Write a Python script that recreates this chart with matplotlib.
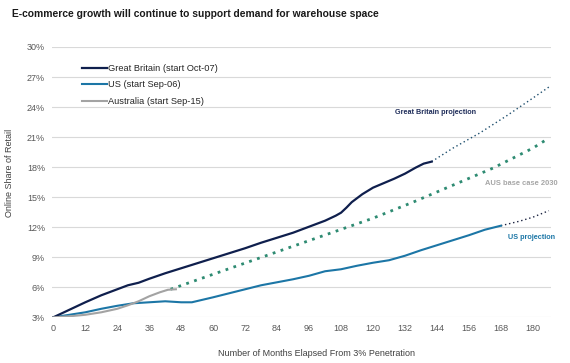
import matplotlib.pyplot as plt
from matplotlib.ticker import FuncFormatter

# data (months since 3% share, online share %)
gb_months = [0, 6, 12, 18, 24, 28, 32, 36, 42, 48, 54, 60, 66, 72, 78, 84, 90, 96,
             102, 106, 108, 110, 112, 114, 116, 120, 124, 128, 132, 136, 139, 142]
gb_share = [3.0, 3.75, 4.5, 5.2, 5.8, 6.2, 6.45, 6.85, 7.4, 7.9, 8.4, 8.9, 9.4, 9.9,
            10.45, 10.95, 11.45, 12.05, 12.65, 13.15, 13.45, 13.95, 14.5, 14.9, 15.3,
            15.95, 16.4, 16.85, 17.35, 17.95, 18.35, 18.55]

us_months = [0, 6, 12, 18, 24, 30, 36, 42, 48, 52, 56, 60, 66, 72, 78, 84, 90, 96,
             102, 108, 114, 120, 126, 132, 138, 144, 150, 156, 162, 168]
us_share = [3.0, 3.25, 3.5, 3.85, 4.15, 4.4, 4.5, 4.6, 4.5, 4.5, 4.75, 5.0, 5.4, 5.8,
            6.2, 6.5, 6.8, 7.15, 7.6, 7.8, 8.15, 8.45, 8.7, 9.15, 9.7, 10.2, 10.7,
            11.2, 11.75, 12.15]

au_months = [0, 6, 12, 18, 24, 28, 32, 36, 40, 43, 46]
au_share = [3.0, 3.1, 3.25, 3.5, 3.85, 4.2, 4.6, 5.1, 5.5, 5.75, 5.8]

gb_proj_months = [142, 150, 160, 170, 180, 186]
gb_proj_share = [18.55, 19.9, 21.4, 23.1, 24.9, 26.0]

us_proj_months = [168, 175, 180, 186]
us_proj_share = [12.15, 12.6, 13.0, 13.65]

au_base_months = [44, 60, 75, 90, 105, 120, 135, 150, 165, 180, 186]
au_base_share = [5.8, 7.3, 8.7, 10.1, 11.5, 12.9, 14.5, 16.2, 17.9, 19.9, 20.9]

x_ticks = list(range(0, 181, 12))
y_ticks = list(range(3, 31, 3))

navy = '#0f1f4d'
blue = '#1c76a6'
grey = '#a3a3a3'
green = '#2e8b72'

plt.rcParams['font.family'] = ['Liberation Sans', 'DejaVu Sans']

fig = plt.figure(figsize=(5.7, 3.63), dpi=100)
ax = fig.add_axes([52/570, 1-317.3/363, 499/570, (317.3-47)/363])

ax.plot(au_base_months, au_base_share, color=green, lw=2.0, ls=(0, (1, 2)))
ax.plot(gb_proj_months, gb_proj_share, color='#1f4f6e', lw=1.0, ls=(0, (1, 2)))
ax.plot(us_proj_months, us_proj_share, color='#1a2240', lw=1.0, ls=(0, (1, 2)))
ax.plot(us_months, us_share, color=blue, lw=1.5, label='US (start Sep-06)')
ax.plot(gb_months, gb_share, color=navy, lw=1.6, label='Great Britain (start Oct-07)')
ax.plot(au_months, au_share, color=grey, lw=1.5, label='Australia (start Sep-15)')

ax.set_xlim(-0.5, 186.8)
ax.set_ylim(3, 30)
ax.set_xticks(x_ticks)
ax.set_yticks(y_ticks)
ax.yaxis.set_major_formatter(FuncFormatter(lambda v, p: '%d%%' % v))
ax.grid(axis='y', color='#d9d9d9', lw=0.8)
ax.set_axisbelow(True)
for s in ax.spines.values():
    s.set_visible(False)
ax.tick_params(length=0, labelsize=6.5, labelcolor='#595959', pad=5)

# legend in GB, US, AU order
h, l = ax.get_legend_handles_labels()
order = [1, 0, 2]
ax.legend([h[i] for i in order], [l[i] for i in order], loc='upper left',
          bbox_to_anchor=(82/570, 1-64/363), bbox_transform=fig.transFigure,
          frameon=False, fontsize=6.7, handlelength=2.7, handletextpad=0.1,
          labelspacing=0.8, borderpad=0, borderaxespad=0, labelcolor='#262626')

ax.text(128.1, 23.5, 'Great Britain projection', color='#1f2d5a', fontsize=5.2,
        fontweight='bold', va='center')
ax.text(162.1, 16.4, 'AUS base case 2030', color='#a6a6a6', fontsize=5.4,
        fontweight='bold', va='center')
ax.text(170.7, 10.98, 'US projection', color=blue, fontsize=5.2,
        fontweight='bold', va='center')

fig.text(12/570, 1-14/363, 'E-commerce growth will continue to support demand for warehouse space',
         fontsize=7.4, fontweight='bold', color='#1a1a1a', va='center')
fig.text(317/570, 1-353/363, 'Number of Months Elapsed From 3% Penetration',
         fontsize=6.5, color='#404040', ha='center', va='center')
fig.text(10/570, 1-173/363, 'Online Share of Retail', fontsize=6.5, color='#404040',
         rotation=90, ha='center', va='center')

fig.savefig('out.png', dpi=100)
